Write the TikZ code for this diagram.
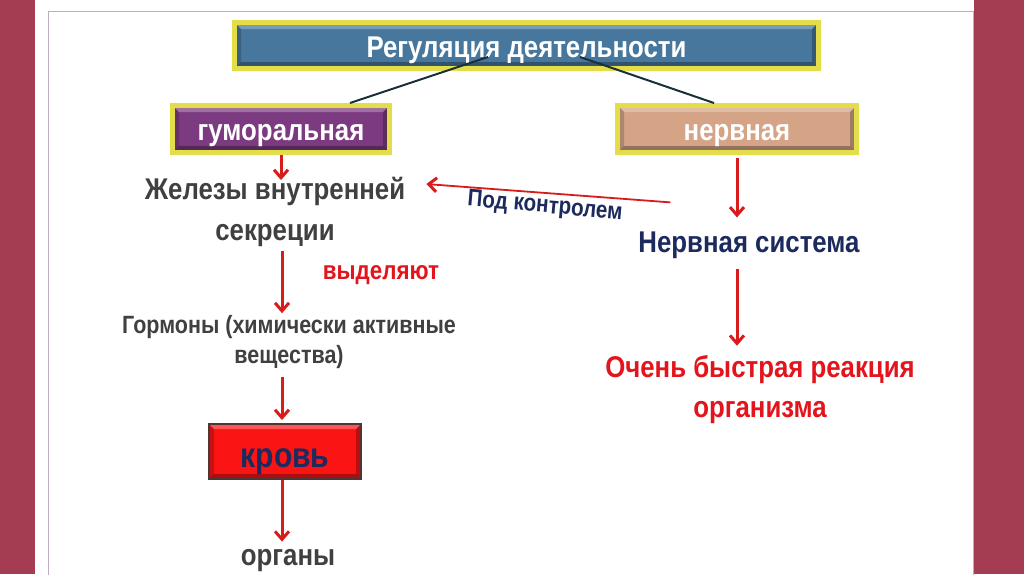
\documentclass[tikz,border=0pt]{standalone}
\usepackage{fontspec}
\setmainfont{Liberation Sans}
\newfontfamily\nfb[FakeStretch=0.86]{Liberation Sans Bold}
\usetikzlibrary{arrows.meta,calc}
\definecolor{maroon}{HTML}{A53D52}
\definecolor{slideline}{HTML}{BBAEBE}
\definecolor{regblue}{HTML}{47779D}
\definecolor{humpurple}{HTML}{7C3A80}
\definecolor{nervtan}{HTML}{D5A386}
\definecolor{boxyellow}{HTML}{E3DD4A}
\definecolor{bloodred}{HTML}{FA1414}
\definecolor{bloodedge}{HTML}{4E3636}
\definecolor{greytext}{HTML}{404040}
\definecolor{navytext}{HTML}{1C2A5E}
\definecolor{redtext}{HTML}{E3141C}
\definecolor{arrowred}{HTML}{D81C1C}
\definecolor{linkdark}{HTML}{17303A}
\newcommand\fsz[2]{\fontsize{#1}{#2}\selectfont}
\tikzset{
  bevel/.style={path picture={
    \fill[white,opacity=0.28]
      (path picture bounding box.north west) --
      (path picture bounding box.north east) --
      ([xshift=-#1,yshift=-#1]path picture bounding box.north east) --
      ([xshift=#1,yshift=-#1]path picture bounding box.north west) -- cycle;
    \fill[black,opacity=0.18]
      (path picture bounding box.north west) --
      ([xshift=#1,yshift=-#1]path picture bounding box.north west) --
      ([xshift=#1,yshift=#1]path picture bounding box.south west) --
      (path picture bounding box.south west) -- cycle;
    \fill[black,opacity=0.30]
      (path picture bounding box.south west) --
      (path picture bounding box.south east) --
      ([xshift=-#1,yshift=#1]path picture bounding box.south east) --
      ([xshift=#1,yshift=#1]path picture bounding box.south west) -- cycle;
    \fill[black,opacity=0.25]
      (path picture bounding box.north east) --
      ([xshift=-#1,yshift=-#1]path picture bounding box.north east) --
      ([xshift=-#1,yshift=#1]path picture bounding box.south east) --
      (path picture bounding box.south east) -- cycle;
  }},
  ybox/.style={draw=boxyellow, line width=5pt, inner sep=0pt,
    text=white, font=\nfb\fsz{30}{36}, bevel=6.5pt, text depth=0pt},
  plaintext/.style={inner sep=0pt, align=center},
  redarrow/.style={draw=arrowred, line width=3pt,
    -{Straight Barb[length=8pt,width=14pt,line width=3pt]}},
  link/.style={draw=linkdark, line width=2pt},
}
\begin{document}
\begin{tikzpicture}[x=1pt,y=-1pt]
\useasboundingbox (0,0) rectangle (1024,574);
\fill[maroon] (0,0) rectangle (1024,574);
\fill[white] (35,0) rectangle (974,574);
\draw[slideline, line width=1pt] (48,590) -- (48,11) -- (973,11) -- (973,590);

% boxes
\node[ybox, fill=regblue, minimum width=584pt, minimum height=46pt, text height=23pt] (reg) at (526.5,45.5) {Регуляция деятельности};
\node[ybox, fill=humpurple, minimum width=217pt, minimum height=47pt, text height=22pt] (hum) at (281,129) {гуморальная};
\node[ybox, fill=nervtan, minimum width=239pt, minimum height=47pt, text height=22pt] (nerv) at (737,129) {нервная};
\node[draw=bloodedge, line width=2pt, fill=bloodred, bevel=5pt, inner sep=0pt,
      minimum width=152pt, minimum height=55pt, text=navytext,
      text height=31pt, text depth=0pt,
      font=\nfb\fsz{35}{40}] (krov) at (285,451.5) {кровь};

% texts
\node[plaintext, text=greytext, font=\nfb\fsz{30}{41}] (zhel) at (275,212) {Железы внутренней\\секреции};
\node[plaintext, text=redtext, font=\nfb\fsz{26}{30}] (vyd) at (381,275) {выделяют};
\node[plaintext, text=greytext, font=\nfb\fsz{25}{30}] (horm) at (289,342) {Гормоны (химически активные\\вещества)};
\node[plaintext, text=greytext, font=\nfb\fsz{30}{36}] (org) at (288,561) {органы};
\node[plaintext, text=navytext, font=\nfb\fsz{30}{36}] (ns) at (749,245) {Нервная система};
\node[plaintext, text=redtext, font=\nfb\fsz{30}{40}] (fast) at (760,390) {Очень быстрая реакция\\организма};
\node[plaintext, text=navytext, font=\nfb\fsz{24}{28}, rotate=-5] (ctrl) at (545,207) {Под контролем};

% links from the title
\draw[link] ($(reg.center)+(-38.5,11.5)$) -- ($(hum.north)+(69,0)$);
\draw[link] ($(reg.center)+(53.5,11.5)$) -- ($(nerv.north)+(-23,0)$);

% arrows, left column
\draw[redarrow] (hum.south) -- ($(hum.south |- zhel.north)+(0,3)$);
\draw[redarrow] ($(hum.south |- zhel.south)+(1,4)$) -- ($(hum.south |- horm.north)+(1,-2)$);
\draw[redarrow] ($(hum.south |- horm.south)+(1,8)$) -- ($(hum.south |- krov.north)+(1,-3)$);
\draw[redarrow] ($(hum.south |- krov.south)+(1,0)$) -- ($(hum.south |- org.north)+(1,-8)$);

% arrows, right column
\draw[redarrow] ($(nerv.south)+(0,3)$) -- ($(nerv.south |- ns.north)+(0,-14)$);
\draw[redarrow] ($(nerv.south |- ns.south)+(0,10)$) -- ($(nerv.south |- fast.north)+(0,-10)$);

% control arrow
\draw[redarrow, line width=1.8pt] ($(ns.north west)+(32,-29)$) -- ($(zhel.north east)+(21,7)$);
\end{tikzpicture}
\end{document}
